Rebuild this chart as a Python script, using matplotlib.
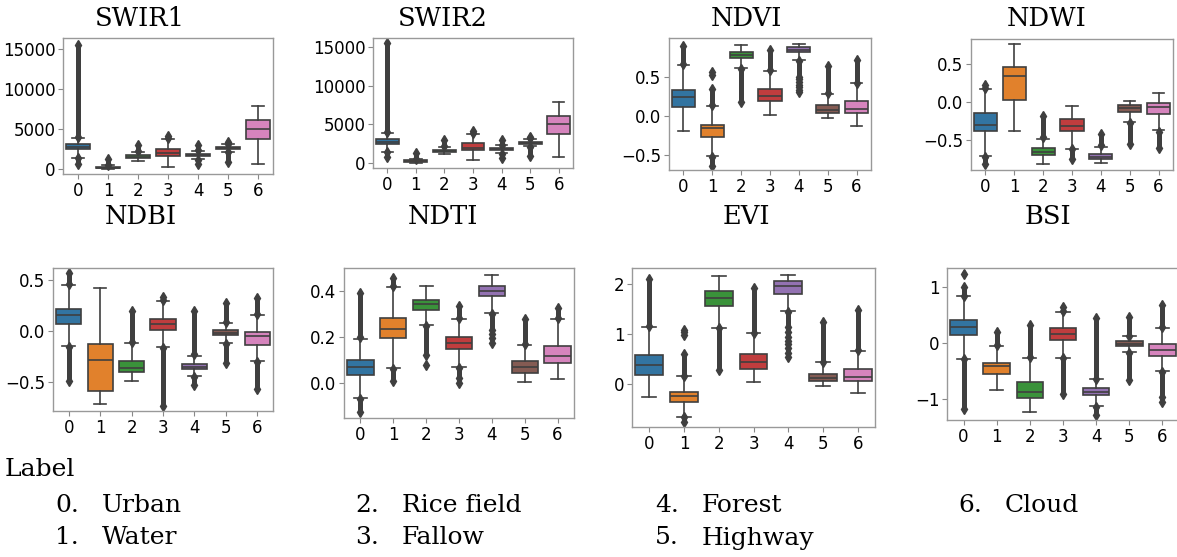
import matplotlib
matplotlib.use('Agg')
import matplotlib.pyplot as plt

#Land cover classes on the x axis
CLASSES = [0, 1, 2, 3, 4, 5, 6]
CLASS_NAMES = ['Urban', 'Water', 'Rice field', 'Fallow', 'Forest', 'Highway', 'Cloud']
COLORS = ['#3274a1', '#e1812c', '#3a923a', '#c03d3e', '#9372b2', '#845b53', '#d684bd']

#Box stats per class: (whisker low, q1, median, q3, whisker high)
#UP / DOWN = range covered by the dense outlier column, PTS = loose outliers
SWIR1_BOX = [(1400, 2500, 2800, 3100, 3900), (0, 100, 200, 330, 500), (1050, 1380, 1500, 1750, 2150),
             (300, 1650, 2000, 2550, 3750), (1250, 1650, 1800, 1950, 2300), (2150, 2550, 2650, 2800, 3150),
             (700, 3800, 5000, 6100, 7900)]
SWIR1_UP = [(4000, 15500), (550, 1300), (2250, 3000), (3950, 4100), (2350, 3000), (3200, 3450), None]
SWIR1_DOWN = [(700, 1350), None, None, None, (600, 1200), (900, 2100), None]
SWIR1_PTS = [[], [], [], [], [], [], []]

SWIR2_BOX = [(1450, 2500, 2750, 3050, 3900), (0, 100, 200, 330, 500), (1100, 1380, 1500, 1700, 2100),
             (350, 1650, 2000, 2600, 3700), (1250, 1650, 1800, 1950, 2300), (2150, 2500, 2600, 2750, 3150),
             (750, 3800, 5000, 6050, 7900)]
SWIR2_UP = [(4000, 15500), (550, 1300), (2200, 3000), (3950, 4100), (2350, 3000), (3200, 3400), None]
SWIR2_DOWN = [(750, 1400), None, None, None, (600, 1200), (900, 2100), None]
SWIR2_PTS = [[], [], [], [], [], [], []]

NDVI_BOX = [(-0.19, 0.12, 0.24, 0.34, 0.66), (-0.51, -0.27, -0.15, -0.11, 0.13), (0.61, 0.74, 0.78, 0.82, 0.91),
            (0.02, 0.19, 0.26, 0.35, 0.58), (0.72, 0.82, 0.85, 0.88, 0.92), (-0.02, 0.04, 0.08, 0.14, 0.28),
            (-0.13, 0.04, 0.09, 0.19, 0.42)]
NDVI_UP = [(0.67, 0.90), (0.14, 0.35), None, (0.59, 0.85), None, (0.29, 0.64), (0.43, 0.72)]
NDVI_DOWN = [None, (-0.64, -0.52), (0.18, 0.60), None, (0.50, 0.71), None, None]
NDVI_PTS = [[], [0.53, 0.56], [], [], [0.47, 0.44, 0.40, 0.37, 0.34, 0.31], [], []]

NDWI_BOX = [(-0.71, -0.38, -0.30, -0.15, 0.17), (-0.38, 0.03, 0.34, 0.46, 0.75), (-0.81, -0.69, -0.65, -0.60, -0.48),
            (-0.61, -0.38, -0.31, -0.23, -0.06), (-0.80, -0.75, -0.72, -0.68, -0.59), (-0.26, -0.13, -0.08, -0.04, 0.01),
            (-0.37, -0.16, -0.07, -0.01, 0.12)]
NDWI_UP = [(0.18, 0.22), None, (-0.46, -0.19), None, (-0.57, -0.42), None, None]
NDWI_DOWN = [(-0.81, -0.72), None, None, (-0.74, -0.62), None, (-0.55, -0.28), (-0.60, -0.39)]
NDWI_PTS = [[], [], [], [], [], [], []]

NDBI_BOX = [(-0.14, 0.07, 0.16, 0.22, 0.45), (-0.71, -0.58, -0.28, -0.12, 0.42), (-0.49, -0.40, -0.36, -0.29, -0.11),
            (-0.15, 0.01, 0.07, 0.12, 0.30), (-0.44, -0.37, -0.35, -0.32, -0.24), (-0.11, -0.04, -0.02, 0.01, 0.08),
            (-0.29, -0.13, -0.05, -0.01, 0.16)]
NDBI_UP = [(0.46, 0.57), None, (-0.10, 0.20), (0.31, 0.34), (-0.22, 0.20), (0.09, 0.28), (0.17, 0.33)]
NDBI_DOWN = [(-0.49, -0.15), None, None, (-0.73, -0.16), (-0.53, -0.45), (-0.31, -0.12), (-0.56, -0.30)]
NDBI_PTS = [[], [], [], [], [], [], []]

NDTI_BOX = [(-0.065, 0.035, 0.068, 0.10, 0.19), (0.065, 0.195, 0.235, 0.283, 0.415), (0.25, 0.315, 0.34, 0.36, 0.42),
            (0.07, 0.147, 0.175, 0.20, 0.277), (0.305, 0.375, 0.40, 0.422, 0.468), (0.005, 0.045, 0.067, 0.096, 0.165),
            (0.017, 0.086, 0.117, 0.16, 0.275)]
NDTI_UP = [(0.20, 0.39), (0.42, 0.455), None, (0.28, 0.335), None, (0.17, 0.275), (0.28, 0.325)]
NDTI_DOWN = [(-0.125, -0.07), (0.01, 0.06), (0.12, 0.245), (0.02, 0.065), (0.23, 0.30), None, None]
NDTI_PTS = [[], [], [0.078], [0.0], [0.21, 0.195, 0.175], [], []]

EVI_BOX = [(-0.26, 0.19, 0.38, 0.59, 1.15), (-0.65, -0.35, -0.23, -0.15, 0.16), (1.13, 1.56, 1.72, 1.86, 2.16),
           (0.04, 0.30, 0.44, 0.60, 1.02), (1.46, 1.81, 1.96, 2.07, 2.18), (-0.03, 0.06, 0.13, 0.21, 0.44),
           (-0.18, 0.06, 0.15, 0.30, 0.67)]
EVI_UP = [(1.16, 2.10), (0.17, 0.60), None, (1.03, 1.93), None, (0.45, 1.25), (0.68, 1.48)]
EVI_DOWN = [None, (-0.75, -0.66), (0.28, 1.12), None, (1.15, 1.45), None, None]
EVI_PTS = [[], [0.98, 1.04, 1.09], [], [], [1.05, 0.95, 0.87, 0.80, 0.72, 0.62, 0.55], [], []]

BSI_BOX = [(-0.28, 0.14, 0.29, 0.42, 0.83), (-0.84, -0.55, -0.41, -0.35, -0.05), (-1.22, -0.97, -0.87, -0.69, -0.26),
           (-0.26, 0.05, 0.17, 0.27, 0.56), (-1.12, -0.92, -0.86, -0.80, -0.64), (-0.16, -0.05, -0.01, 0.03, 0.12),
           (-0.50, -0.22, -0.12, -0.01, 0.27)]
BSI_UP = [(0.84, 1.0), (-0.03, 0.19), (-0.24, 0.33), (0.57, 0.64), (-0.63, 0.45), (0.13, 0.47), (0.28, 0.67)]
BSI_DOWN = [(-1.17, -0.29), None, None, (-0.91, -0.27), (-1.27, -1.13), (-0.66, -0.17), (-0.95, -0.51)]
BSI_PTS = [[1.22], [], [], [], [], [], [-1.05]]

PANEL_NAMES = ['SWIR1', 'SWIR2', 'NDVI', 'NDWI', 'NDBI', 'NDTI', 'EVI', 'BSI']
Y_TICKS = [[0, 5000, 10000, 15000], [0, 5000, 10000, 15000], [-0.5, 0.0, 0.5], [-0.5, 0.0, 0.5],
           [-0.5, 0.0, 0.5], [0.0, 0.2, 0.4], [0, 1, 2], [-1, 0, 1]]
Y_LIMITS = [(-600, 16400), (-650, 16200), (-0.69, 1.0), (-0.89, 0.82),
            (-0.78, 0.62), (-0.152, 0.498), (-0.86, 2.32), (-1.365, 1.335)]

W, H = 1177, 557
#axes boxes in pixels: left, right, top, bottom
AX_PX = [(63, 273, 38, 174), (373, 573, 38, 168), (669, 871, 38, 170), (971, 1173, 39, 170),
         (53, 273, 268, 411), (344, 574, 268, 418), (632, 875, 268, 427), (947, 1179, 268, 420)]
#title centers in pixels
TITLE_PX = [(140, 19), (443, 19), (746, 19), (1047, 19),
            (141, 216), (443, 216), (746, 216), (1048, 216)]

LINE_COLOR = '#3f3f3f'
SERIF = 'DejaVu Serif'


def main():
    fig = plt.figure(figsize=(W / 100, H / 100), dpi=100)

    panels = [(SWIR1_BOX, SWIR1_UP, SWIR1_DOWN, SWIR1_PTS),
              (SWIR2_BOX, SWIR2_UP, SWIR2_DOWN, SWIR2_PTS),
              (NDVI_BOX, NDVI_UP, NDVI_DOWN, NDVI_PTS),
              (NDWI_BOX, NDWI_UP, NDWI_DOWN, NDWI_PTS),
              (NDBI_BOX, NDBI_UP, NDBI_DOWN, NDBI_PTS),
              (NDTI_BOX, NDTI_UP, NDTI_DOWN, NDTI_PTS),
              (EVI_BOX, EVI_UP, EVI_DOWN, EVI_PTS),
              (BSI_BOX, BSI_UP, BSI_DOWN, BSI_PTS)]

    for i, (box, up, down, pts) in enumerate(panels):
        l, r, t, b = AX_PX[i]
        ax = fig.add_axes([l / W, 1 - b / H, (r - l) / W, (b - t) / H])
        draw_boxes(ax, box, up, down, pts)
        ax.set_ylim(*Y_LIMITS[i])
        ax.set_yticks(Y_TICKS[i])
        style_axes(ax)
        tx, ty = TITLE_PX[i]
        fig.text(tx / W, 1 - ty / H, PANEL_NAMES[i], family=SERIF, fontsize=18.5,
                 ha='center', va='center')

    draw_label_key(fig)
    fig.savefig('out.png', dpi=100)


def draw_boxes(ax, box, up, down, pts):
    stats = []
    for (lo, q1, med, q3, hi) in box:
        stats.append({'whislo': lo, 'q1': q1, 'med': med, 'q3': q3, 'whishi': hi, 'fliers': []})

    #outlier columns first so the boxes sit on top
    for x in CLASSES:
        for rng in (up[x], down[x]):
            if rng is None:
                continue
            ax.vlines(x, rng[0], rng[1], color=LINE_COLOR, lw=3.6, zorder=1)
            ax.plot([x, x], rng, 'd', color=LINE_COLOR, ms=5, zorder=1)
        if pts[x]:
            ax.plot([x] * len(pts[x]), pts[x], 'd', color=LINE_COLOR, ms=5, zorder=1)

    parts = ax.bxp(stats, positions=CLASSES, widths=0.8, patch_artist=True, showfliers=False,
                   boxprops=dict(edgecolor=LINE_COLOR, linewidth=1.2),
                   medianprops=dict(color=LINE_COLOR, linewidth=1.2),
                   whiskerprops=dict(color=LINE_COLOR, linewidth=1.2),
                   capprops=dict(color=LINE_COLOR, linewidth=1.2))
    for patch, color in zip(parts['boxes'], COLORS):
        patch.set_facecolor(color)
        patch.set_zorder(2)
    for line in parts['medians']:
        line.set_zorder(3)
    ax.set_xlim(-0.5, 6.5)


def style_axes(ax):
    ax.set_xticks(CLASSES)
    ax.set_xticklabels([str(c) for c in CLASSES])
    ax.tick_params(labelsize=12, length=3.5, color='#888888', pad=2)
    for spine in ax.spines.values():
        spine.set_color('#999999')
        spine.set_linewidth(1.0)


def draw_label_key(fig):
    #Legend for the class numbers under the panels
    fig.text(5 / W, 1 - 470 / H, 'Label', family=SERIF, fontsize=18, ha='left', va='center')
    col_x = [55, 55, 355, 355, 655, 655, 958]
    row_y = [505, 538, 505, 538, 505, 538, 505]
    for c in CLASSES:
        x, y = col_x[c], row_y[c]
        fig.text(x / W, 1 - y / H, f'{c}.', family=SERIF, fontsize=18, ha='left', va='center')
        fig.text((x + 47) / W, 1 - y / H, CLASS_NAMES[c], family=SERIF, fontsize=18,
                 ha='left', va='center')


main()
